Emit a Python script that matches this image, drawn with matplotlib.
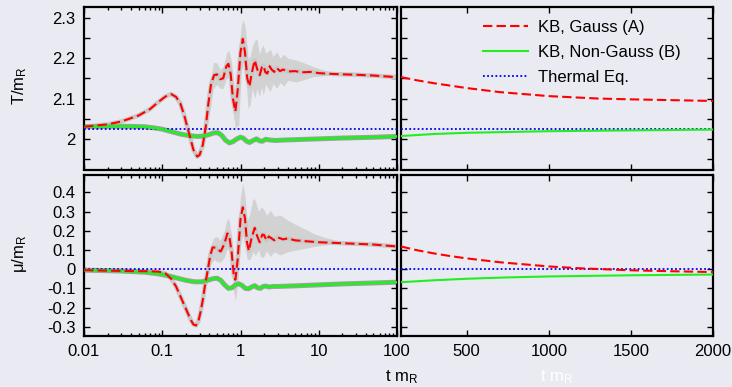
import matplotlib
matplotlib.use("Agg")
import matplotlib.pyplot as plt
from matplotlib.ticker import MultipleLocator, FixedLocator, NullFormatter, LogLocator

plt.rcParams["font.family"] = ["Liberation Sans", "DejaVu Sans"]
plt.rcParams["mathtext.default"] = "regular"
plt.rcParams["font.size"] = 12

BG = "#eaeaf2"
RED = "#ff0000"
GREEN = "#22ee22"
BLUE = "#0000ee"
BAND = "#d2d2d2"

T_EQ = 2.024
MU_EQ = 0.0

# ---- T/m_R, early times (log axis) ----
t_red_T = [0.01, 0.02, 0.03, 0.05, 0.07, 0.09, 0.11, 0.13, 0.15, 0.17, 0.19, 0.21,
           0.23, 0.25, 0.28, 0.30, 0.33, 0.36, 0.39, 0.42, 0.46, 0.50, 0.55, 0.60,
           0.66, 0.70, 0.75, 0.80, 0.86, 0.92, 1.00, 1.07, 1.14, 1.22, 1.30, 1.40,
           1.52, 1.64, 1.76, 1.88, 1.97, 2.08, 2.2, 2.35, 2.5, 2.7, 2.9, 3.2, 3.5,
           4, 5, 6, 8, 10, 15, 20, 30, 50, 70, 100]
T_red = [2.030, 2.036, 2.043, 2.058, 2.074, 2.092, 2.105, 2.111, 2.104, 2.088, 2.060, 2.028,
         2.000, 1.973, 1.956, 1.960, 1.985, 2.030, 2.090, 2.135, 2.158, 2.160, 2.148, 2.150,
         2.180, 2.186, 2.160, 2.100, 2.068, 2.120, 2.215, 2.248, 2.215, 2.150, 2.130, 2.165,
         2.195, 2.172, 2.158, 2.178, 2.181, 2.165, 2.162, 2.180, 2.172, 2.166, 2.176, 2.168, 2.172,
         2.167, 2.168, 2.165, 2.166, 2.163, 2.161, 2.160, 2.159, 2.157, 2.155, 2.153]

t_band_T = [0.33, 0.36, 0.40, 0.45, 0.50, 0.55, 0.60, 0.66, 0.71, 0.76, 0.81, 0.86,
            0.95, 1.02, 1.08, 1.16, 1.25, 1.33, 1.42, 1.53, 1.62, 1.75, 1.85, 1.95,
            2.1, 2.4, 2.6, 2.9, 3.2, 3.6, 4, 5.2, 7, 8.5, 11, 14, 19, 25]
T_band_hi = [1.990, 2.045, 2.120, 2.190, 2.188, 2.172, 2.178, 2.212, 2.220, 2.195, 2.145, 2.110,
             2.220, 2.280, 2.296, 2.272, 2.200, 2.205, 2.230, 2.245, 2.247, 2.210, 2.225, 2.233,
             2.212, 2.222, 2.205, 2.216, 2.200, 2.210, 2.200, 2.195, 2.186, 2.179, 2.172, 2.166,
             2.162, 2.160]
T_band_lo = [1.975, 2.010, 2.060, 2.125, 2.135, 2.125, 2.125, 2.150, 2.152, 2.118, 2.060, 2.027,
             2.035, 2.160, 2.190, 2.160, 2.075, 2.085, 2.125, 2.100, 2.125, 2.104, 2.130, 2.109,
             2.135, 2.117, 2.138, 2.125, 2.140, 2.131, 2.145, 2.141, 2.149, 2.154, 2.156, 2.158,
             2.159, 2.159]

t_grn_T = [0.01, 0.02, 0.04, 0.06, 0.08, 0.10, 0.13, 0.17, 0.22, 0.28, 0.34, 0.40,
           0.46, 0.52, 0.58, 0.64, 0.72, 0.80, 0.90, 1.00, 1.08, 1.20, 1.30, 1.45,
           1.60, 1.75, 1.90, 2.1, 2.4, 2.8, 3.5, 5, 10, 20, 50, 100]
T_grn = [2.030, 2.031, 2.031, 2.030, 2.027, 2.024, 2.018, 2.012, 2.008, 2.006, 2.007, 2.011,
         2.015, 2.015, 2.008, 1.997, 1.990, 1.993, 2.000, 2.004, 2.002, 1.994, 1.991, 1.996,
         2.000, 1.995, 1.994, 1.999, 1.997, 1.996, 1.997, 1.998, 2.000, 2.002, 2.004, 2.006]

# ---- T/m_R, late times (linear axis) ----
t_late_red_T = [100, 200, 300, 400, 500, 700, 1000, 1300, 1500, 1750, 2000]
T_late_red = [2.153, 2.145, 2.138, 2.132, 2.126, 2.116, 2.106, 2.100, 2.098, 2.096, 2.094]
t_late_grn_T = [100, 300, 500, 1000, 1500, 2000]
T_late_grn = [2.007, 2.012, 2.015, 2.019, 2.021, 2.023]

# ---- mu/m_R, early times (log axis) ----
t_red_mu = [0.01, 0.02, 0.04, 0.07, 0.09, 0.11, 0.13, 0.15, 0.17, 0.19, 0.21, 0.23,
            0.25, 0.27, 0.29, 0.31, 0.33, 0.35, 0.38, 0.41, 0.44, 0.48, 0.52, 0.56,
            0.62, 0.68, 0.72, 0.77, 0.82, 0.86, 0.92, 1.00, 1.07, 1.14, 1.21, 1.28,
            1.38, 1.52, 1.64, 1.76, 1.90, 2.0, 2.15, 2.3, 2.5, 2.7, 3, 3.5, 4, 5,
            7, 10, 20, 50, 100]
mu_red = [-0.005, -0.008, -0.010, -0.011, -0.013, -0.022, -0.050, -0.090, -0.140, -0.185, -0.225, -0.262,
          -0.288, -0.293, -0.270, -0.220, -0.160, -0.090, -0.010, 0.070, 0.113, 0.112, 0.100, 0.092,
          0.130, 0.186, 0.170, 0.090, -0.030, -0.055, 0.050, 0.260, 0.322, 0.265, 0.140, 0.095,
          0.160, 0.215, 0.170, 0.140, 0.180, 0.178, 0.150, 0.170, 0.160, 0.150, 0.165, 0.155, 0.160, 0.150,
          0.145, 0.140, 0.135, 0.128, 0.118]

t_band_mu = [0.34, 0.38, 0.42, 0.46, 0.50, 0.55, 0.62, 0.68, 0.72, 0.77, 0.82, 0.86,
             0.92, 1.00, 1.07, 1.14, 1.22, 1.32, 1.45, 1.55, 1.70, 1.80, 1.95, 2.15,
             2.4, 2.7, 3.2, 4, 5.2, 7, 8.5, 11, 14, 20, 28]
mu_band_hi = [-0.110, 0.050, 0.130, 0.165, 0.170, 0.150, 0.200, 0.265, 0.250, 0.170, 0.050, 0.020,
              0.150, 0.380, 0.447, 0.380, 0.250, 0.290, 0.370, 0.355, 0.300, 0.320, 0.317, 0.280,
              0.305, 0.275, 0.282, 0.255, 0.230, 0.205, 0.186, 0.170, 0.158, 0.142, 0.134]
mu_band_lo = [-0.150, -0.060, 0.030, 0.050, 0.040, 0.035, 0.060, 0.110, 0.090, 0.010, -0.120, -0.165,
              -0.080, 0.120, 0.180, 0.120, 0.050, 0.050, 0.090, 0.070, 0.100, 0.065, 0.062, 0.095,
              0.066, 0.090, 0.074, 0.090, 0.100, 0.110, 0.117, 0.124, 0.129, 0.132, 0.133]

t_grn_mu = [0.01, 0.03, 0.06, 0.09, 0.12, 0.16, 0.20, 0.26, 0.32, 0.38, 0.44, 0.50,
            0.56, 0.62, 0.70, 0.78, 0.86, 0.95, 1.05, 1.15, 1.27, 1.40, 1.52, 1.65,
            1.80, 1.95, 2.1, 2.3, 2.6, 3, 5, 10, 20, 50, 100]
mu_grn = [-0.005, -0.010, -0.016, -0.025, -0.035, -0.048, -0.058, -0.066, -0.066, -0.058, -0.050, -0.047,
          -0.058, -0.080, -0.100, -0.097, -0.082, -0.076, -0.085, -0.100, -0.102, -0.092, -0.086, -0.097,
          -0.100, -0.090, -0.088, -0.093, -0.090, -0.090, -0.087, -0.082, -0.077, -0.072, -0.068]

# ---- mu/m_R, late times (linear axis) ----
t_late_red_mu = [100, 200, 300, 400, 500, 700, 1000, 1200, 1500, 1750, 2000]
mu_late_red = [0.118, 0.098, 0.082, 0.068, 0.056, 0.036, 0.014, 0.004, -0.006, -0.011, -0.015]
t_late_grn_mu = [100, 300, 500, 750, 1000, 1500, 2000]
mu_late_grn = [-0.068, -0.058, -0.050, -0.043, -0.038, -0.032, -0.028]

LABELS = ["KB, Gauss (A)", "KB, Non-Gauss (B)", "Thermal Eq."]

DASH = (0, (4.5, 2.0))
DOT = (0, (1.0, 1.3))


def style(ax):
    ax.set_facecolor(BG)
    for s in ax.spines.values():
        s.set_linewidth(1.6)
    ax.tick_params(which="both", direction="in", top=True, right=True,
                   width=1.0, labelsize=12, pad=6)
    ax.tick_params(which="major", length=4.5)
    ax.tick_params(which="minor", length=2.5)


def draw_early(ax, t_r, y_r, t_b, y_hi, y_lo, t_g, y_g, eq):
    ax.fill_between(t_b, y_lo, y_hi, color=BAND, lw=0, zorder=1)
    ax.plot(t_r, y_r, color="#c8c8c8", lw=3.2, zorder=2)
    ax.plot(t_g, y_g, color="#a0a0a0", lw=3.6, zorder=2)
    ax.axhline(eq, color=BLUE, lw=1.3, linestyle=DOT, zorder=3)
    ax.plot(t_g, y_g, color=GREEN, lw=2.0, zorder=4)
    ax.plot(t_r, y_r, color=RED, lw=1.5, linestyle=DASH, zorder=5)
    ax.set_xscale("log")
    ax.set_xlim(0.01, 100)
    ax.xaxis.set_minor_locator(LogLocator(base=10, subs=range(2, 10), numticks=20))
    ax.xaxis.set_minor_formatter(NullFormatter())


def draw_late(ax, t_r, y_r, t_g, y_g, eq):
    l1, = ax.plot(t_r, y_r, color=RED, lw=1.5, linestyle=DASH, zorder=5)
    l2, = ax.plot(t_g, y_g, color=GREEN, lw=1.5, zorder=4)
    l3 = ax.axhline(eq, color=BLUE, lw=1.3, linestyle=DOT, zorder=3)
    ax.set_xlim(100, 2000)
    ax.xaxis.set_major_locator(FixedLocator([500, 1000, 1500, 2000]))
    ax.yaxis.set_ticklabels([])
    return l1, l2, l3


fig = plt.figure(figsize=(7.32, 3.87), dpi=100, facecolor=BG)
W, H = 732.0, 387.0
ax_tl = fig.add_axes([84 / W, 1 - 169.5 / H, 313 / W, 162.5 / H])
ax_tr = fig.add_axes([401 / W, 1 - 169.5 / H, 312 / W, 162.5 / H])
ax_bl = fig.add_axes([84 / W, 1 - 336 / H, 313 / W, 161 / H])
ax_br = fig.add_axes([401 / W, 1 - 336 / H, 312 / W, 161 / H])

for ax in (ax_tl, ax_tr, ax_bl, ax_br):
    style(ax)

draw_early(ax_tl, t_red_T, T_red, t_band_T, T_band_hi, T_band_lo, t_grn_T, T_grn, T_EQ)
draw_early(ax_bl, t_red_mu, mu_red, t_band_mu, mu_band_hi, mu_band_lo, t_grn_mu, mu_grn, MU_EQ)
handles = draw_late(ax_tr, t_late_red_T, T_late_red, t_late_grn_T, T_late_grn, T_EQ)
draw_late(ax_br, t_late_red_mu, mu_late_red, t_late_grn_mu, mu_late_grn, MU_EQ)

for ax in (ax_tl, ax_tr):
    ax.set_ylim(1.924, 2.327)
    ax.yaxis.set_major_locator(MultipleLocator(0.05))
    ax.xaxis.set_ticklabels([])
ax_tl.yaxis.set_major_formatter(
    plt.FuncFormatter(lambda v, p: ("%g" % round(v, 2)) if abs(round(v * 10) - v * 10) < 1e-6 else ""))

for ax in (ax_bl, ax_br):
    ax.set_ylim(-0.348, 0.49)
    ax.yaxis.set_major_locator(MultipleLocator(0.1))
ax_bl.yaxis.set_major_formatter(plt.FuncFormatter(lambda v, p: "%g" % round(v, 2)))
ax_bl.xaxis.set_major_formatter(plt.FuncFormatter(lambda v, p: "%g" % v))

ax_tr.legend(handles, LABELS, loc="upper left", bbox_to_anchor=(0.215, 1.015),
             frameon=False, fontsize=12, handlelength=2.7, handletextpad=0.6,
             labelspacing=0.6)

fig.text(19.5 / W, 1 - 86 / H, "T/m$_R$", rotation=90, ha="center", va="center", fontsize=12)
fig.text(19.5 / W, 1 - 254 / H, "\u03bc/m$_R$", rotation=90, ha="center", va="center", fontsize=12)
fig.text(402 / W, 1 - 377 / H, "t m$_R$", ha="center", va="center", fontsize=12)
fig.text(557 / W, 1 - 377 / H, "t m$_R$", ha="center", va="center", fontsize=12, color="white")

fig.savefig("out.png", dpi=100, facecolor=BG)
